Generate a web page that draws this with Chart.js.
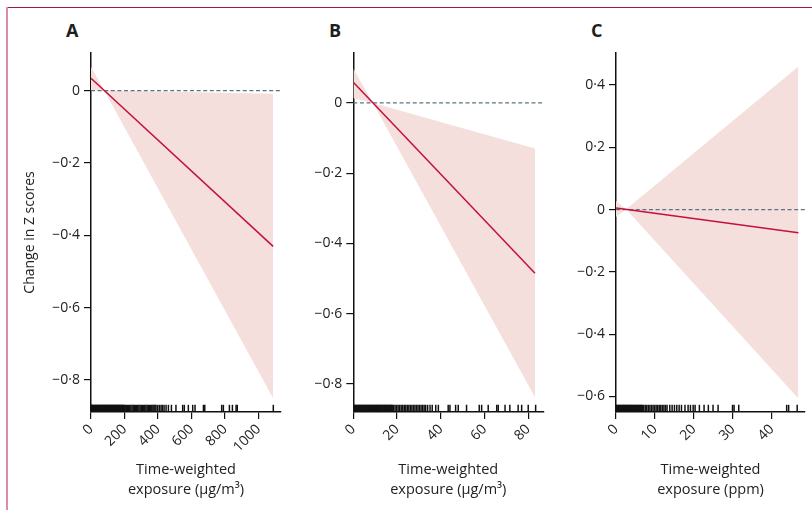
<!DOCTYPE html>
<html><head><meta charset="utf-8">
<script src="https://cdn.jsdelivr.net/npm/chart.js@4.4.1/dist/chart.umd.min.js"></script>
<style>
html,body{margin:0;padding:0;background:#fff;}
body{width:812px;height:510px;position:relative;overflow:hidden;font-family:'Open Sans',sans-serif;}
.cv{position:absolute;top:0;height:510px;}
#frameTop{position:absolute;left:6px;top:7px;width:806px;height:1px;background:#a3153f;}
#frameLeft{position:absolute;left:6px;top:7px;width:2px;height:503px;background:#e08aa6;}
.lab{position:absolute;top:21px;font-weight:700;font-size:18px;line-height:18px;color:#1e1e1e;}
</style></head>
<body>
<div id="frameTop"></div><div id="frameLeft"></div>
<div class="lab" style="left:66px">A</div>
<div class="lab" style="left:329px">B</div>
<div class="lab" style="left:591px">C</div>
<div class="cv" style="left:0;width:290px"><canvas id="cA"></canvas></div>
<div class="cv" style="left:290px;width:263px"><canvas id="cB"></canvas></div>
<div class="cv" style="left:560px;width:252px"><canvas id="cC"></canvas></div>
<script>
// ---- Panel A (µg/m³) ----
const lineXA = [0, 1087];
const lineYA = [0.034, -0.431];
const bandXA = [0, 79, 1087];
const upperA = [0.065, 0, -0.009];
const lowerA = [0.001, 0, -0.851];
const xTicksA = [0, 200, 400, 600, 800, 1000];
const yTicksA = [0, -0.2, -0.4, -0.6, -0.8];
const rugA = [0,3,7,10,14,17,21,25,28,32,36,39,43,46,50,54,57,61,65,68,72,75,79,83,86,90,94,97,101,104,108,112,115,119,123,126,130,133,137,141,144,148,152,155,159,162,166,170,173,177,181,184,188,191,195,199,
  204,211,218,224,231,238,245,252,259,265,272,279,286,293,300,307,314,321,328,335,342,349,356,363,370,376,382,
  388,398,408,418,426,436,448,462,480,507,547,557,581,607,621,671,679,780,790,826,844,866,873,1088];

// ---- Panel B (µg/m³) ----
const lineXB = [0, 83.1];
const lineYB = [0.059, -0.485];
const bandXB = [0, 9, 83.1];
const upperB = [0.098, 0, -0.130];
const lowerB = [0.013, 0, -0.838];
const xTicksB = [0, 20, 40, 60, 80];
const yTicksB = [0, -0.2, -0.4, -0.6, -0.8];
const rugB = [0,0.3,0.7,1,1.4,1.7,2.1,2.4,2.8,3.1,3.5,3.8,4.2,4.5,4.9,5.2,5.6,5.9,6.3,6.6,7,7.3,7.7,8,8.4,8.7,9.1,9.4,9.8,10.1,10.5,10.8,11.2,11.5,11.9,12.2,12.6,12.9,13.3,13.6,14,14.3,14.7,15,15.4,15.7,16.1,16.4,16.8,17.1,17.5,17.8,
  18.4,19.1,19.8,20.5,21.2,21.9,22.6,23.3,24,24.7,25.4,26.1,26.8,27.5,28.2,28.9,29.6,30.3,31,31.7,32.4,33.1,
  34.0,35.1,36.1,37.7,38.9,43.4,44.2,46.8,48.0,51.8,57.6,58.7,61.7,65.6,66.3,69.4,71.6,75.4,77.0,80.0,83.4];

// ---- Panel C (ppm) ----
const lineXC = [0, 46.8];
const lineYC = [0.005, -0.074];
const bandXC = [0, 2.6, 46.8];
const upperC = [0.028, 0.001, 0.46];
const lowerC = [-0.024, 0.001, -0.607];
const xTicksC = [0, 10, 20, 30, 40];
const yTicksC = [0.4, 0.2, 0, -0.2, -0.4, -0.6];
const rugC = [0,0.2,0.4,0.6,0.8,1,1.2,1.4,1.6,1.8,2,2.2,2.4,2.6,2.8,3,3.2,3.4,3.6,3.8,4,4.2,4.4,4.6,4.8,5,5.2,5.4,5.6,5.8,6,6.2,6.4,6.6,6.8,
  7.1,7.5,7.9,8.3,8.7,9.1,9.5,9.9,10.3,10.7,11.1,11.5,11.9,12.3,12.7,13.1,
  13.8,14.4,15.0,15.6,16.2,16.8,17.7,18.5,19.1,19.8,20.3,21.4,22.6,23.7,24.9,26.2,29.9,30.3,31.5,43.8,44.3,46.5];

const xTitleUg = ['Time-weighted', 'exposure (µg/m³)'];
const xTitlePpm = ['Time-weighted', 'exposure (ppm)'];
const yTitle = 'Change in Z scores';

Chart.defaults.font.family = "'Open Sans', sans-serif";
const TXT = '#222';

function fmtY(v) {
  if (Math.abs(v) < 1e-9) return '0';
  return (v < 0 ? '\u2212' : '') + Math.abs(v).toFixed(1).replace('.', '\u00b7');
}

function panel(id, o) {
  const rugY = o.yMin + (o.yMax - o.yMin) * (3.6 / 359);
  return new Chart(document.getElementById(id), {
    type: 'line',
    data: { datasets: [
      { data: o.lineX.map((x, i) => ({x, y: o.lineY[i]})), borderColor: '#c3103f', borderWidth: 1.5, pointRadius: 0, fill: false },
      { data: [{x: 0, y: 0}, {x: o.xMax, y: 0}], borderColor: '#5d7480', borderWidth: 1.2, borderDash: [4, 2.6], pointRadius: 0, fill: false },
      { data: o.rug.map(x => ({x, y: rugY})), showLine: false, pointStyle: 'line', pointRotation: 90, pointRadius: 3.6,
        pointBorderWidth: 1.5, pointBorderColor: '#111', pointBackgroundColor: '#111', fill: false },
      { data: o.bandX.map((x, i) => ({x, y: o.upper[i]})), borderColor: 'rgba(0,0,0,0)', borderWidth: 0, pointRadius: 0,
        backgroundColor: '#f5dfdc', fill: 4 },
      { data: o.bandX.map((x, i) => ({x, y: o.lower[i]})), borderColor: 'rgba(0,0,0,0)', borderWidth: 0, pointRadius: 0, fill: false }
    ]},
    options: {
      responsive: true, maintainAspectRatio: false, animation: false, events: [],
      layout: { padding: { top: 53, right: o.padRight, bottom: 0, left: 0 } },
      plugins: { legend: { display: false }, tooltip: { enabled: false }, filler: { propagate: false } },
      scales: {
        x: {
          type: 'linear', min: 0, max: o.xMax,
          afterBuildTicks: s => { s.ticks = o.xTicks.map(v => ({value: v})); },
          afterFit: s => { s.height = 98; },
          border: { display: true, color: '#111', width: 1.5 },
          grid: { drawOnChartArea: false, drawTicks: true, tickLength: 7, color: '#111', lineWidth: 1.2 },
          ticks: { autoSkip: false, minRotation: 45, maxRotation: 45, padding: 2, color: TXT, font: { size: 14 }, callback: v => String(v) },
          title: { display: true, text: o.xTitle, color: TXT, font: { size: 14.5, lineHeight: 1.4 }, padding: { top: 0, bottom: 10 } }
        },
        y: {
          type: 'linear', min: o.yMin, max: o.yMax,
          afterBuildTicks: s => { s.ticks = o.yTicks.map(v => ({value: v})); },
          afterFit: s => { s.width = o.yWidth; },
          border: { display: true, color: '#111', width: 1.5 },
          grid: { drawOnChartArea: false, drawTicks: true, tickLength: 7, color: '#111', lineWidth: 1.2 },
          ticks: { padding: 4, color: TXT, font: { size: 14 }, callback: v => fmtY(v) },
          title: o.yTitle ? { display: true, text: o.yTitle, color: TXT, font: { size: 14 }, padding: { top: 21.6, bottom: 0 } } : { display: false }
        }
      }
    }
  });
}

panel('cA', { lineX: lineXA, lineY: lineYA, bandX: bandXA, upper: upperA, lower: lowerA, rug: rugA,
  xTicks: xTicksA, yTicks: yTicksA, xMax: 1134, yMin: -0.889, yMax: 0.104, yWidth: 91, padRight: 9,
  xTitle: xTitleUg, yTitle: yTitle });
panel('cB', { lineX: lineXB, lineY: lineYB, bandX: bandXB, upper: upperB, lower: lowerB, rug: rugB,
  xTicks: xTicksB, yTicks: yTicksB, xMax: 86.9, yMin: -0.88, yMax: 0.142, yWidth: 63.3, padRight: 9.7,
  xTitle: xTitleUg, yTitle: null });
panel('cC', { lineX: lineXC, lineY: lineYC, bandX: bandXC, upper: upperC, lower: lowerC, rug: rugC,
  xTicks: xTicksC, yTicks: yTicksC, xMax: 48.5, yMin: -0.65, yMax: 0.503, yWidth: 56, padRight: 7,
  xTitle: xTitlePpm, yTitle: null });
</script>
</body></html>
